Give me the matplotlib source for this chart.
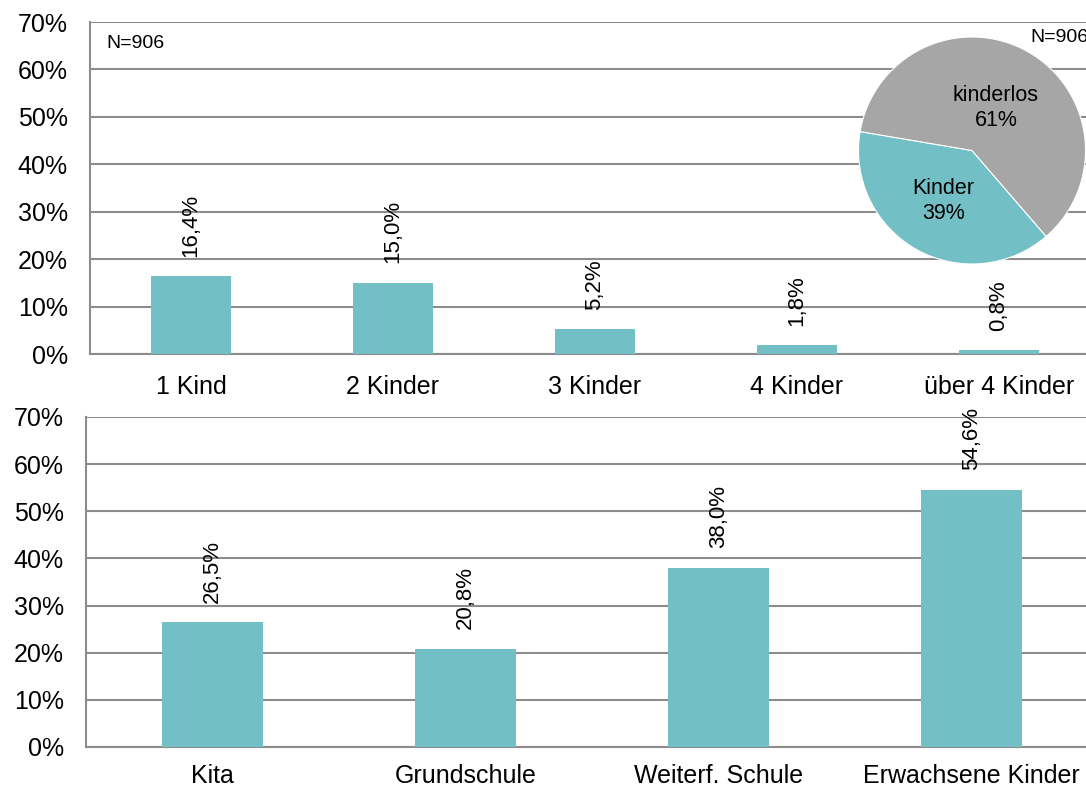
import numpy as np
from matplotlib import pyplot as plt
from matplotlib.ticker import PercentFormatter

plt.rcParams['font.family'] = ['Liberation Sans', 'DejaVu Sans']

# Daten
kinder_kat = ['1 Kind', '2 Kinder', '3 Kinder', '4 Kinder', 'über 4 Kinder']
kinder_anteil = [16.4, 15.0, 5.2, 1.8, 0.8]

alter_kat = ['Kita', 'Grundschule', 'Weiterf. Schule', 'Erwachsene Kinder']
alter_anteil = [26.5, 20.8, 38.0, 54.6]

pie_labels = ['Kinder', 'kinderlos']
pie_werte = [39, 61]
n_text = 'N=906'

teal = '#72BFC5'
grau = '#A6A6A6'
linie = '#8C8C8C'

W, H = 1086, 789
fig = plt.figure(figsize=(W / 100, H / 100), dpi=100)


def bar_panel(rect, cats, vals, xpad):
    ax = fig.add_axes(rect)
    x = range(len(cats))
    ax.bar(x, vals, width=0.4, color=teal, zorder=3)
    ax.set_xlim(-0.5, len(cats) - 0.5)
    ax.set_ylim(0, 70)
    ax.set_yticks(range(0, 71, 10))
    ax.yaxis.set_major_formatter(PercentFormatter(decimals=0))
    ax.set_xticks(list(x))
    ax.set_xticklabels(cats)
    ax.grid(axis='y', color=linie, lw=1.5, zorder=0)
    for s in ['top', 'right']:
        ax.spines[s].set_visible(False)
    for s in ['left', 'bottom']:
        ax.spines[s].set_color(linie)
        ax.spines[s].set_linewidth(1.5)
    ax.tick_params(length=0, labelsize=18)
    ax.tick_params(axis='y', pad=16)
    ax.tick_params(axis='x', pad=xpad)
    for xi, v in zip(x, vals):
        ax.annotate(f'{v:.1f}%'.replace('.', ','), (xi, v),
                    xytext=(0, 14), textcoords='offset points',
                    rotation=90, ha='center', va='bottom', fontsize=16)
    return ax


top = bar_panel([90 / W, 1 - 354 / H, 1010 / W, 332 / H],
                kinder_kat, kinder_anteil, 15)
top.text(106 / W, 1 - 43 / H, n_text, transform=fig.transFigure,
         fontsize=14, va='center', ha='left')

bar_panel([86 / W, 1 - 747 / H, 1012 / W, 330 / H],
          alter_kat, alter_anteil, 12)

# Tortendiagramm
cx, cy, r = 972, 150.5, 113.5
pax = fig.add_axes([(cx - r) / W, 1 - (cy + r) / H, 2 * r / W, 2 * r / H])
wedges, _ = pax.pie(pie_werte, colors=[teal, grau], startangle=170.4,
                    counterclock=True,
                    wedgeprops={'linewidth': 0.8, 'edgecolor': 'white'})
for w, lab, val, rad in zip(wedges, pie_labels, pie_werte, [0.51, 0.43]):
    ang = np.deg2rad((w.theta1 + w.theta2) / 2)
    pax.text(rad * np.cos(ang), rad * np.sin(ang), f'{lab}\n{val}%',
             ha='center', va='center', fontsize=15.5, linespacing=1.3)
pax.set_xlim(-1, 1)
pax.set_ylim(-1, 1)
pax.set_aspect('equal')
fig.text(1030 / W, 1 - 37 / H, n_text, fontsize=14, va='center', ha='left')

fig.savefig('out.png', dpi=100)
